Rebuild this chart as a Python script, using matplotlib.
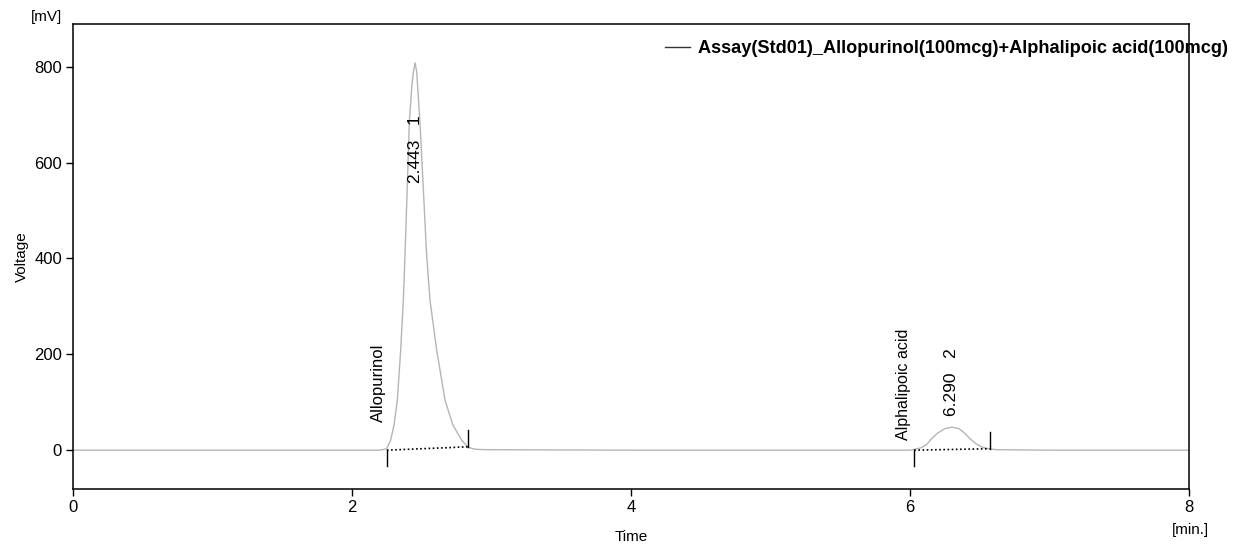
import numpy as np
import matplotlib.pyplot as plt
from matplotlib.lines import Line2D

plt.rcParams['font.family'] = ['Liberation Sans', 'DejaVu Sans']

# trace (time in min, voltage in mV)
t_trace = [0.0, 1.0, 2.0, 2.20, 2.249, 2.277, 2.301, 2.325, 2.349, 2.368, 2.380, 2.396,
           2.411, 2.428, 2.44, 2.452, 2.464, 2.471, 2.487, 2.511, 2.535, 2.559, 2.607,
           2.667, 2.724, 2.786, 2.832, 2.88, 2.95, 4.0, 5.0, 6.0, 6.036, 6.08, 6.12,
           6.155, 6.20, 6.25, 6.30, 6.35, 6.39, 6.43, 6.47, 6.51, 6.56, 6.62, 7.0, 8.0]
v_trace = [0, 0, 0, 0, 3, 21, 52, 104, 209, 313, 407, 547,
           685, 756, 789, 808, 789, 756, 685, 547, 407, 313, 209,
           104, 52, 21, 6, 2, 1, 0, 0, 0, 2, 5, 12,
           24, 36, 45, 48, 45, 36, 24, 14, 7, 3, 1, 0, 0]

# integration: start, end, baseline at start and end
peak_names = ['Allopurinol', 'Alphalipoic acid']
peak_rt = [2.443, 6.290]
peak_no = [1, 2]
peak_start = [2.25, 6.03]
peak_end = [2.83, 6.57]
base_start = [0, 0]
base_end = [7, 3]

fig = plt.figure(figsize=(12.35, 5.44), dpi=100)
ax = fig.add_axes([73/1235, 1-489/544, (1189-73)/1235, (489-24)/544])

ax.plot(t_trace, v_trace, color='#b5b5b5', lw=1.0)

for i in range(len(peak_rt)):
    ax.plot([peak_start[i], peak_end[i]], [base_start[i], base_end[i]],
            color='black', ls=(0, (1, 1.5)), lw=1.2)
    ax.plot([peak_start[i], peak_start[i]], [base_start[i], base_start[i]-32],
            color='black', lw=1.0)
    ax.plot([peak_end[i], peak_end[i]], [base_end[i], base_end[i]+35],
            color='black', lw=1.0)

ax.text(2.19, 58, peak_names[0], rotation=90, ha='center', va='bottom', fontsize=12)
ax.text(2.452, 557, '%.3f   %d' % (peak_rt[0], peak_no[0]), rotation=90,
        ha='center', va='bottom', fontsize=12.5)
ax.text(5.95, 21, peak_names[1], rotation=90, ha='center', va='bottom', fontsize=11.5)
ax.text(6.30, 71, '%.3f   %d' % (peak_rt[1], peak_no[1]), rotation=90,
        ha='center', va='bottom', fontsize=12.5)

ax.set_xlim(0, 8)
ax.set_ylim(-81, 889)
ax.set_xticks([0, 2, 4, 6, 8])
ax.set_yticks([0, 200, 400, 600, 800])
ax.tick_params(direction='out', length=5, width=1, labelsize=12, pad=3)
for s in ax.spines.values():
    s.set_linewidth(1.1)

ax.set_xlabel('Time', fontsize=11, labelpad=11)
ax.set_ylabel('Voltage', fontsize=11, labelpad=3.5)
fig.text(47/1235, 1-17/544, '[mV]', ha='center', va='center', fontsize=11)
fig.text(1190/1235, 1-530/544, '[min.]', ha='center', va='center', fontsize=11)

h = Line2D([], [], color='#333333', lw=1.0)
ax.legend([h], ['Assay(Std01)_Allopurinol(100mcg)+Alphalipoic acid(100mcg)'],
          loc='upper left', bbox_to_anchor=(665/1235, 1-40/544),
          bbox_transform=fig.transFigure, frameon=False, borderpad=0,
          borderaxespad=0, handlelength=1.4, handletextpad=0.4,
          prop={'weight': 'bold', 'size': 13.1})

fig.savefig('out.png', dpi=100)
